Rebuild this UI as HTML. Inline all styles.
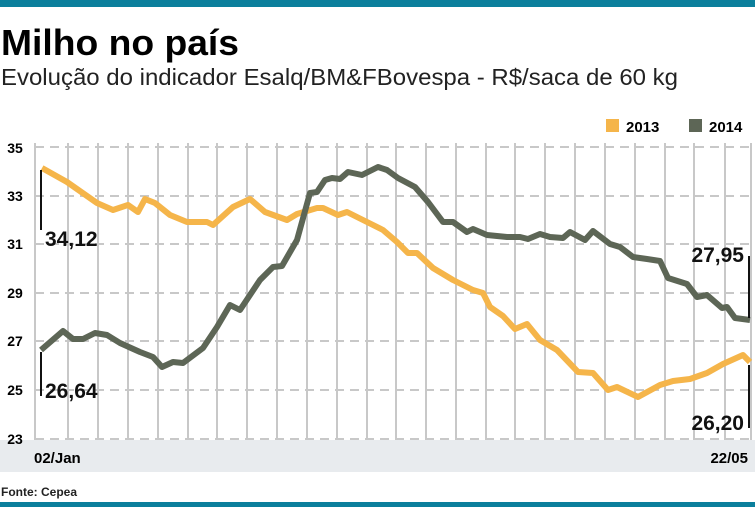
<!DOCTYPE html>
<html><head><meta charset="utf-8"><style>
html,body{margin:0;padding:0;background:#fff;width:755px;height:507px;overflow:hidden}
svg{display:block}
</style></head><body>
<svg width="755" height="507" xmlns="http://www.w3.org/2000/svg" font-family="Liberation Sans, sans-serif">
<rect x="0" y="0" width="755" height="7" fill="#0b7f9c"/>
<rect x="0" y="502" width="755" height="5" fill="#0b7f9c"/>
<text x="1" y="55" font-size="36" font-weight="bold" textLength="238" lengthAdjust="spacingAndGlyphs">Milho no país</text>
<text x="1" y="85" font-size="23" fill="#222" textLength="677" lengthAdjust="spacingAndGlyphs">Evolução do indicador Esalq/BM&amp;FBovespa - R$/saca de 60 kg</text>
<rect x="606" y="119" width="13" height="13" fill="#f5b54a"/>
<text x="626" y="132" font-size="15" font-weight="bold">2013</text>
<rect x="689" y="119" width="13" height="13" fill="#5d6656"/>
<text x="709" y="132" font-size="15" font-weight="bold">2014</text>
<rect x="0" y="440" width="755" height="32" fill="#e8ebee"/>
<g stroke="#c8c8c8" stroke-width="2">
<line x1="35" y1="143" x2="35" y2="440"/>
<line x1="68" y1="143" x2="68" y2="440"/><line x1="98" y1="143" x2="98" y2="440"/><line x1="128" y1="143" x2="128" y2="440"/><line x1="158" y1="143" x2="158" y2="440"/><line x1="188" y1="143" x2="188" y2="440"/><line x1="217" y1="143" x2="217" y2="440"/><line x1="247" y1="143" x2="247" y2="440"/><line x1="277" y1="143" x2="277" y2="440"/><line x1="307" y1="143" x2="307" y2="440"/><line x1="337" y1="143" x2="337" y2="440"/><line x1="367" y1="143" x2="367" y2="440"/><line x1="396" y1="143" x2="396" y2="440"/><line x1="426" y1="143" x2="426" y2="440"/><line x1="456" y1="143" x2="456" y2="440"/><line x1="486" y1="143" x2="486" y2="440"/><line x1="515" y1="143" x2="515" y2="440"/><line x1="545" y1="143" x2="545" y2="440"/><line x1="575" y1="143" x2="575" y2="440"/><line x1="605" y1="143" x2="605" y2="440"/><line x1="635" y1="143" x2="635" y2="440"/><line x1="665" y1="143" x2="665" y2="440"/><line x1="694" y1="143" x2="694" y2="440"/><line x1="725" y1="143" x2="725" y2="440"/><line x1="751" y1="143" x2="751" y2="440"/>
</g>
<g stroke="#c8c8c8" stroke-width="2" stroke-dasharray="9,6">
<line x1="35" y1="147" x2="755" y2="147"/><line x1="35" y1="196" x2="755" y2="196"/><line x1="35" y1="244" x2="755" y2="244"/><line x1="35" y1="293" x2="755" y2="293"/><line x1="35" y1="341" x2="755" y2="341"/><line x1="35" y1="390" x2="755" y2="390"/><line x1="35" y1="439" x2="755" y2="439"/>
</g>
<g font-size="14" font-weight="bold" text-anchor="middle">
<text x="15" y="153">35</text><text x="15" y="201">33</text><text x="15" y="249">31</text><text x="15" y="298">29</text><text x="15" y="346">27</text><text x="15" y="395">25</text><text x="15" y="444">23</text>
</g>
<polyline fill="none" stroke="#f5b54a" stroke-width="6" stroke-linejoin="round" points="42,168 67,182 97,203 113,210 128,205 138,212 145,199 155,203 170,215 187,222 207,222 213,225 233,207 250,199 265,212 287,220 297,214 317,208 323,208 338,215 347,212 363,220 383,230 397,242 408,253 417,253 433,268 453,280 473,290 483,293 490,307 503,316 515,329 527,324 540,340 557,350 578,372 593,373 608,390 617,387 638,397 660,385 673,381 690,379 707,373 723,364 743,355 750,362"/>
<polyline fill="none" stroke="#5d6656" stroke-width="6" stroke-linejoin="round" points="41,350 63,331 73,339 83,339 95,333 107,335 120,343 140,352 153,357 162,367 173,362 183,363 203,348 217,327 230,305 240,310 260,280 273,267 282,266 297,240 310,193 317,192 325,180 332,178 340,179 348,172 362,175 378,167 387,170 398,178 415,187 428,202 443,222 453,222 467,232 473,229 487,235 507,237 520,237 528,239 540,234 550,237 563,238 570,232 585,240 593,231 610,244 620,247 633,257 647,259 660,261 668,278 687,284 697,297 707,295 722,308 727,307 735,318 750,320"/>
<g stroke="#111" stroke-width="2">
<line x1="41" y1="170" x2="41" y2="230"/><line x1="41" y1="352" x2="41" y2="396"/>
<line x1="749" y1="256" x2="749" y2="318"/><line x1="749" y1="365" x2="749" y2="428"/>
</g>
<g font-size="21" font-weight="bold" fill="#111">
<text x="45" y="246">34,12</text><text x="45" y="398">26,64</text>
<text x="744" y="262" text-anchor="end">27,95</text><text x="744" y="430" text-anchor="end">26,20</text>
</g>
<text x="34" y="463" font-size="15" font-weight="bold">02/Jan</text>
<text x="748" y="463" font-size="15" font-weight="bold" text-anchor="end">22/05</text>
<text x="1" y="496" font-size="12" font-weight="bold" fill="#222">Fonte: Cepea</text>
</svg>
</body></html>
